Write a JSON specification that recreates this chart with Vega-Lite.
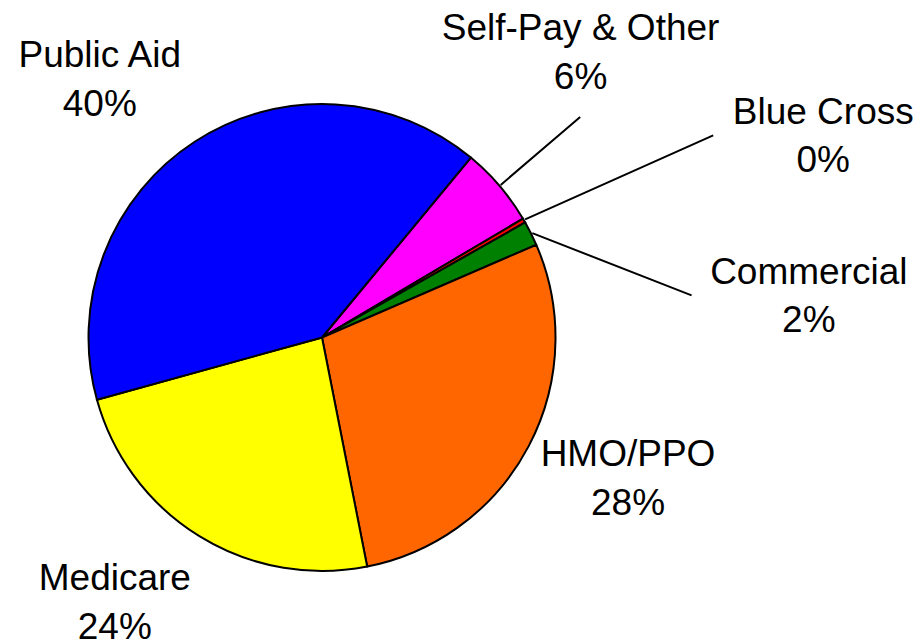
{
  "$schema": "https://vega.github.io/schema/vega-lite/v6.json",
  "width": 644,
  "height": 607,
  "autosize": {"type": "none"},
  "padding": {"left": 0, "top": 34, "right": 279, "bottom": 0},
  "background": "white",
  "config": {"view": {"stroke": null}},
  "data": {
    "values": [
      {"ord": 1, "category": "Self-Pay & Other", "value": 5.5, "label": "Self-Pay & Other\n6%"},
      {"ord": 2, "category": "Blue Cross", "value": 0.3, "label": "Blue Cross\n0%"},
      {"ord": 3, "category": "Commercial", "value": 1.7, "label": "Commercial\n2%"},
      {"ord": 4, "category": "HMO/PPO", "value": 28.4, "label": "HMO/PPO\n28%"},
      {"ord": 5, "category": "Medicare", "value": 23.8, "label": "Medicare\n24%"},
      {"ord": 6, "category": "Public Aid", "value": 40.3, "label": "Public Aid\n40%"}
    ]
  },
  "encoding": {
    "theta": {"field": "value", "type": "quantitative", "stack": true, "scale": {"range": [0.6912, 6.9744]}},
    "order": {"field": "ord", "type": "quantitative"},
    "detail": {"field": "category", "type": "nominal"}
  },
  "resolve": {"scale": {"theta": "independent"}},
  "layer": [
    {
      "mark": {"type": "arc", "radius": 233.5, "stroke": "black", "strokeWidth": 2},
      "encoding": {
        "color": {
          "field": "category", "type": "nominal", "legend": null,
          "scale": {
            "domain": ["Self-Pay & Other", "Blue Cross", "Commercial", "HMO/PPO", "Medicare", "Public Aid"],
            "range": ["#FF00FF", "#FF0000", "#008000", "#FF6600", "#FFFF00", "#0000FF"]
          }
        }
      }
    },
    {
      "mark": {"type": "arc", "radius": 339.5, "radius2": 235, "padAngle": 3, "fillOpacity": 0, "stroke": "black", "strokeWidth": 2},
      "encoding": {
        "strokeOpacity": {"condition": {"test": "datum.category == 'Self-Pay & Other'", "value": 1}, "value": 0}
      }
    },
    {
      "mark": {"type": "arc", "radius": 216, "radius2": 10, "padAngle": 3, "xOffset": 194, "yOffset": -114, "fillOpacity": 0, "stroke": "black", "strokeWidth": 2},
      "encoding": {
        "theta": {"field": "value", "type": "quantitative", "stack": true, "scale": {"range": [0.7952, 7.0784]}},
        "strokeOpacity": {"condition": {"test": "datum.category == 'Blue Cross'", "value": 1}, "value": 0}
      }
    },
    {
      "mark": {"type": "arc", "radius": 181, "radius2": 10, "padAngle": 3, "xOffset": 201, "yOffset": -108, "fillOpacity": 0, "stroke": "black", "strokeWidth": 2},
      "encoding": {
        "theta": {"field": "value", "type": "quantitative", "stack": true, "scale": {"range": [1.5253, 7.8085]}},
        "strokeOpacity": {"condition": {"test": "datum.category == 'Commercial'", "value": 1}, "value": 0}
      }
    },
    {
      "mark": {"type": "text", "radius": 348, "dx": -33, "dy": 22, "font": "Liberation Sans", "fontSize": 37, "lineHeight": 48.5, "lineBreak": "\n", "align": "center", "baseline": "alphabetic", "color": "black"},
      "encoding": {"text": {"condition": {"test": "datum.category == 'Public Aid'", "field": "label", "type": "nominal"}, "value": ""}}
    },
    {
      "mark": {"type": "text", "radius": 390, "dx": -38, "dy": -44, "font": "Liberation Sans", "fontSize": 37, "lineHeight": 48.5, "lineBreak": "\n", "align": "center", "baseline": "alphabetic", "color": "black"},
      "encoding": {"text": {"condition": {"test": "datum.category == 'Self-Pay & Other'", "field": "label", "type": "nominal"}, "value": ""}}
    },
    {
      "mark": {"type": "text", "radius": 541, "dx": 33, "dy": 57, "font": "Liberation Sans", "fontSize": 37, "lineHeight": 48.5, "lineBreak": "\n", "align": "center", "baseline": "alphabetic", "color": "black"},
      "encoding": {"text": {"condition": {"test": "datum.category == 'Blue Cross'", "field": "label", "type": "nominal"}, "value": ""}}
    },
    {
      "mark": {"type": "text", "radius": 460, "dx": 75, "dy": 151, "font": "Liberation Sans", "fontSize": 37, "lineHeight": 48.5, "lineBreak": "\n", "align": "center", "baseline": "alphabetic", "color": "black"},
      "encoding": {"text": {"condition": {"test": "datum.category == 'Commercial'", "field": "label", "type": "nominal"}, "value": ""}}
    },
    {
      "mark": {"type": "text", "radius": 331, "dx": 13, "dy": -25, "font": "Liberation Sans", "fontSize": 37, "lineHeight": 48.5, "lineBreak": "\n", "align": "center", "baseline": "alphabetic", "color": "black"},
      "encoding": {"text": {"condition": {"test": "datum.category == 'HMO/PPO'", "field": "label", "type": "nominal"}, "value": ""}}
    },
    {
      "mark": {"type": "text", "radius": 324, "dx": -37, "dy": -23, "font": "Liberation Sans", "fontSize": 37, "lineHeight": 48.5, "lineBreak": "\n", "align": "center", "baseline": "alphabetic", "color": "black"},
      "encoding": {"text": {"condition": {"test": "datum.category == 'Medicare'", "field": "label", "type": "nominal"}, "value": ""}}
    }
  ]
}
